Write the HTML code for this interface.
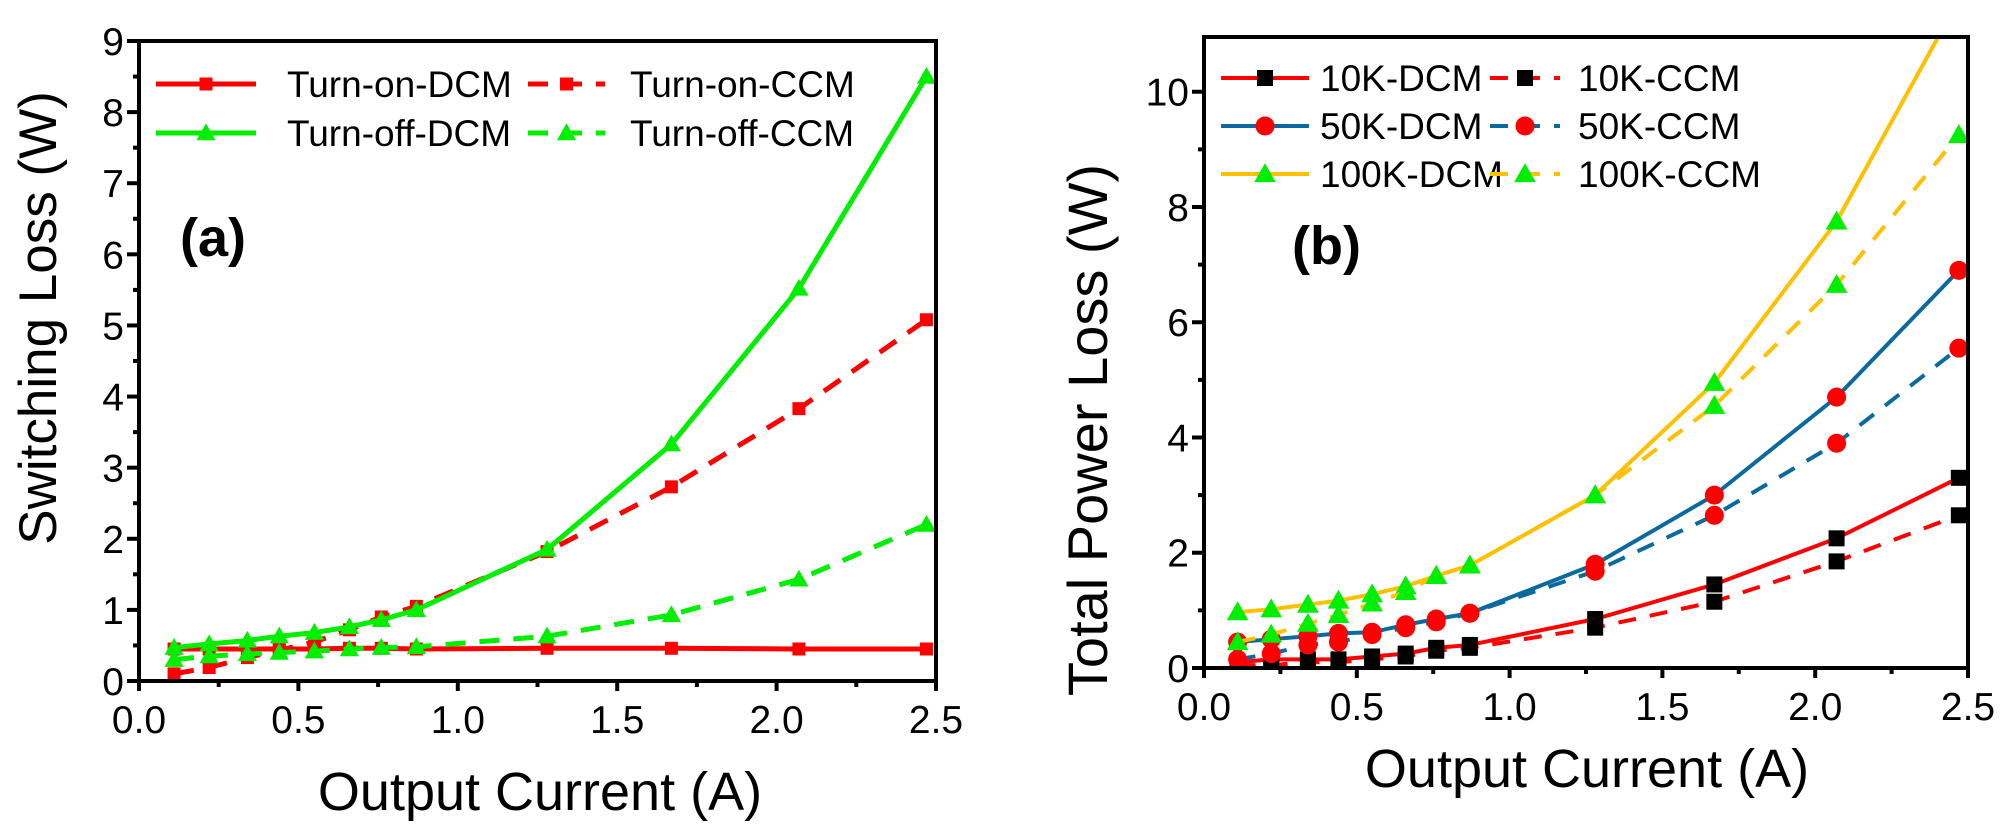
<!DOCTYPE html>
<html><head><meta charset="utf-8"><style>
html,body{margin:0;padding:0;background:#fff;}
svg{display:block;font-family:"Liberation Sans",sans-serif;}
</style></head><body>
<svg id="fig" width="2013" height="835" viewBox="0 0 2013 835" xmlns="http://www.w3.org/2000/svg"></svg>
<script>
// ---- Panel (a) data ----
const xa = [0.11,0.22,0.34,0.44,0.55,0.66,0.76,0.87,1.28,1.67,2.07,2.47];
const onDCM = [0.45,0.45,0.45,0.45,0.45,0.46,0.46,0.45,0.46,0.46,0.45,0.45];
const onCCM = [0.10,0.19,0.33,0.43,0.55,0.72,0.90,1.05,1.82,2.73,3.83,5.08];
const offDCM = [0.47,0.52,0.57,0.63,0.68,0.76,0.86,1.00,1.85,3.33,5.52,8.50];
const offCCM = [0.30,0.35,0.38,0.40,0.42,0.45,0.47,0.48,0.63,0.93,1.43,2.20];
const xTicksA = ["0.0","0.5","1.0","1.5","2.0","2.5"];
const yTicksA = ["0","1","2","3","4","5","6","7","8","9"];
// ---- Panel (b) data ----
const xb = [0.11,0.22,0.34,0.44,0.55,0.66,0.76,0.87,1.28,1.67,2.07,2.47];
const k10DCM = [0.10,0.15,0.15,0.15,0.20,0.25,0.35,0.40,0.85,1.45,2.25,3.30];
const k10CCM = [0.05,0.05,0.10,0.10,0.15,0.20,0.30,0.35,0.70,1.15,1.85,2.65];
const k50DCM = [0.45,0.50,0.55,0.60,0.62,0.75,0.85,0.95,1.80,3.00,4.70,6.90];
const k50CCM = [0.15,0.25,0.40,0.45,0.58,0.70,0.80,0.95,1.68,2.65,3.90,5.55];
const k100DCM = [0.97,1.02,1.10,1.17,1.28,1.42,1.60,1.78,3.00,4.95,7.75,11.6];
const k100CCM = [0.45,0.58,0.77,0.92,1.12,1.32,1.60,1.78,3.00,4.55,6.65,9.25];
const xTicksB = ["0.0","0.5","1.0","1.5","2.0","2.5"];
const yTicksB = ["0","2","4","6","8","10"];

const NS="http://www.w3.org/2000/svg";
const svg=document.getElementById('fig');
function mk(tag,attrs,parent){const e=document.createElementNS(NS,tag);for(const k in attrs)e.setAttribute(k,attrs[k]);(parent||svg).appendChild(e);return e;}

function marker(g,type,x,y,fill,s){
  let m;
  if(type==='sq') m=mk('rect',{x:x-s/2,y:y-s/2,width:s,height:s,fill:fill},g);
  else if(type==='ci') m=mk('circle',{cx:x,cy:y,r:s/2,fill:fill},g);
  else m=mk('polygon',{points:`${x},${y-s*0.6} ${x-s*0.6},${y+s*0.45} ${x+s*0.6},${y+s*0.45}`,fill:fill},g);
  return m;
}

function panel(o){
  const sx=v=>o.x0+(v-o.xmin)/(o.xmax-o.xmin)*(o.x1-o.x0);
  const sy=v=>o.y0-(v-o.ymin)/(o.ymax-o.ymin)*(o.y0-o.y1);
  const g=mk('g',{});
  
  
  const cid=o.name+'-clip';
  const cp=mk('clipPath',{id:cid},g);mk('rect',{x:o.x0,y:o.y1,width:o.x1-o.x0,height:o.y0-o.y1},cp);
  const plot=mk('g',{'clip-path':`url(#${cid})`},g);
  
  
  o.series.forEach(s=>{
    const sg=mk('g',{},plot);
    
    
    const pts=s.xs.map((x,i)=>sx(x)+','+sy(s.ys[i])).join(' ');
    const ln=mk('polyline',{points:pts,fill:'none',stroke:s.color,'stroke-width':o.lw,'stroke-dasharray':s.dash?o.dash:'none'},sg);
    
    
    s.xs.forEach((x,i)=>{
      const m=marker(sg,s.m,sx(x),sy(s.ys[i]),s.mfill,o.ms[s.m]);
      
      
    });
  });
  const fr=mk('rect',{x:o.x0,y:o.y1,width:o.x1-o.x0,height:o.y0-o.y1,fill:'none',stroke:'#000','stroke-width':4},g);
  
  
  const xt=mk('g',{},g);
  
  
  o.xTicks.forEach((t,i)=>{
    const v=o.xmin+i*o.xstep, X=sx(v);
    mk('line',{x1:X,x2:X,y1:o.y0,y2:o.y0+10,stroke:'#000','stroke-width':4},xt);
    if(i<o.xTicks.length-1){const Xm=sx(v+o.xstep/2);mk('line',{x1:Xm,x2:Xm,y1:o.y0,y2:o.y0+6,stroke:'#000','stroke-width':4},xt);}
    const tx=mk('text',{x:X,y:o.y0+52,'font-size':39,'text-anchor':'middle',fill:'#000'},xt);
    tx.textContent=t;
    
    
  });
  const yt=mk('g',{},g);
  
  
  o.yTicks.forEach((t,i)=>{
    const v=o.ymin+i*o.ystep, Y=sy(v);
    mk('line',{x1:o.x0-12,x2:o.x0,y1:Y,y2:Y,stroke:'#000','stroke-width':4},yt);
    if(v+o.ystep/2<o.ymax){const Ym=sy(v+o.ystep/2);mk('line',{x1:o.x0-6,x2:o.x0,y1:Ym,y2:Ym,stroke:'#000','stroke-width':4},yt);}
    const tx=mk('text',{x:o.x0-15,y:Y+14,'font-size':39,'text-anchor':'end',fill:'#000'},yt);
    tx.textContent=t;
    
    
  });
  const xtl=mk('text',{x:o.xtx,y:o.xty,'font-size':54,'text-anchor':'middle',fill:'#000'},g);
  xtl.textContent='Output Current (A)';
  
  
  const ytl=mk('text',{x:0,y:0,'font-size':o.ytfs,'text-anchor':'middle',fill:'#000',transform:`translate(${o.ytx},${o.yty}) rotate(-90)`},g);
  ytl.textContent=o.ytitle;
  
  
  const pl=mk('text',{x:o.plx,y:o.ply,'font-size':54,'font-weight':'bold',fill:'#000'},g);
  pl.textContent=o.plabel;
  
  
  const lg=mk('g',{},g);
  
  
  o.series.forEach((s,i)=>{
    const col=s.dash?1:0, row=o.legendRow[i];
    const L=o.leg[col], y=o.legY0+row*o.legDY;
    const e=mk('g',{},lg);
    
    
    mk('line',{x1:L.l1,x2:L.l2,y1:y,y2:y,stroke:s.color,'stroke-width':o.lw,'stroke-dasharray':s.dash?o.dash:'none'},e);
    marker(e,s.m,(L.l1+L.l2)/2,y,s.mfill,o.ms[s.m]);
    const t=mk('text',{x:L.tx,y:y+13,'font-size':37,fill:'#000'},e);
    t.textContent=s.label;
  });
}

panel({name:'panel-a',x0:139,x1:936,y0:681,y1:41,xmin:0,xmax:2.5,ymin:0,ymax:9,xstep:0.5,ystep:1,
  xTicks:xTicksA,yTicks:yTicksA,lw:5,dash:'20,14',ms:{sq:13,tr:16,ci:16},
  xtx:540,xty:810,ytx:56,yty:318,ytfs:53,ytitle:'Switching Loss (W)',plabel:'(a)',plx:180,ply:256,
  legY0:84,legDY:49,legendRow:[0,0,1,1],
  leg:[{l1:156,l2:256,tx:287},{l1:528,l2:605,tx:630}],
  series:[
    {key:'turn-on-dcm',label:'Turn-on-DCM',xs:xa,ys:onDCM,color:'#ff0000',mfill:'#ff0000',m:'sq',dash:false},
    {key:'turn-on-ccm',label:'Turn-on-CCM',xs:xa,ys:onCCM,color:'#ff0000',mfill:'#ff0000',m:'sq',dash:true},
    {key:'turn-off-dcm',label:'Turn-off-DCM',xs:xa,ys:offDCM,color:'#00ee00',mfill:'#00ee00',m:'tr',dash:false},
    {key:'turn-off-ccm',label:'Turn-off-CCM',xs:xa,ys:offCCM,color:'#00ee00',mfill:'#00ee00',m:'tr',dash:true}
  ]});

panel({name:'panel-b',x0:1204,x1:1968,y0:668,y1:37,xmin:0,xmax:2.5,ymin:0,ymax:10.95,xstep:0.5,ystep:2,
  xTicks:xTicksB,yTicks:yTicksB,lw:4,dash:'18,14',ms:{sq:16,ci:19,tr:18},
  xtx:1587,xty:787,ytx:1107,yty:430,ytfs:56,ytitle:'Total Power Loss (W)',plabel:'(b)',plx:1292,ply:264,
  legY0:78,legDY:48,legendRow:[0,0,1,1,2,2],
  leg:[{l1:1221,l2:1309,tx:1320},{l1:1490,l2:1560,tx:1578}],
  series:[
    {key:'10k-dcm',label:'10K-DCM',xs:xb,ys:k10DCM,color:'#ff0000',mfill:'#000000',m:'sq',dash:false},
    {key:'10k-ccm',label:'10K-CCM',xs:xb,ys:k10CCM,color:'#ff0000',mfill:'#000000',m:'sq',dash:true},
    {key:'50k-dcm',label:'50K-DCM',xs:xb,ys:k50DCM,color:'#0a6aa0',mfill:'#ff0000',m:'ci',dash:false},
    {key:'50k-ccm',label:'50K-CCM',xs:xb,ys:k50CCM,color:'#0a6aa0',mfill:'#ff0000',m:'ci',dash:true},
    {key:'100k-dcm',label:'100K-DCM',xs:xb,ys:k100DCM,color:'#ffc000',mfill:'#00ee00',m:'tr',dash:false},
    {key:'100k-ccm',label:'100K-CCM',xs:xb,ys:k100CCM,color:'#ffc000',mfill:'#00ee00',m:'tr',dash:true}
  ]});
</script>
</body></html>
